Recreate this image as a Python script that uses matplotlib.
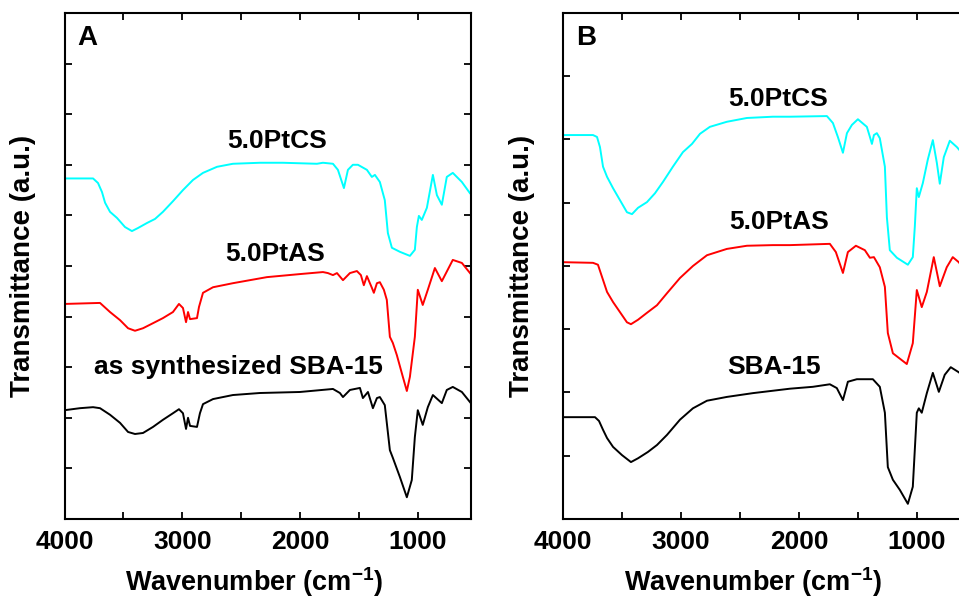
import numpy as np
import matplotlib
matplotlib.use('Agg')
import matplotlib.pyplot as plt
from matplotlib.ticker import MultipleLocator, NullFormatter

plt.rcParams['font.family'] = ['Liberation Sans', 'DejaVu Sans']
plt.rcParams['font.weight'] = 'bold'
plt.rcParams['mathtext.fontset'] = 'custom'
plt.rcParams['mathtext.rm'] = 'Liberation Sans:bold'
plt.rcParams['mathtext.bf'] = 'Liberation Sans:bold'
plt.rcParams['mathtext.default'] = 'bf'

# Panel A, 5.0PtCS (cyan)
a_cs_w = [4000, 3758, 3716, 3682, 3656, 3614, 3555, 3487, 3428, 3377, 3300, 3232, 3165, 3080,
          2995, 2910, 2825, 2706, 2571, 2342, 2147, 1858, 1807, 1722, 1680, 1629, 1595, 1553,
          1510, 1434, 1392, 1366, 1324, 1282, 1256, 1222, 1154, 1069, 1027, 1010, 993, 968, 925,
          874, 840, 798, 756, 705, 628, 560]
a_cs_t = [6.73, 6.73, 6.64, 6.46, 6.25, 6.07, 5.95, 5.77, 5.69, 5.75, 5.85, 5.93, 6.07, 6.28,
          6.50, 6.70, 6.84, 6.96, 7.02, 7.04, 7.04, 7.02, 7.04, 7.02, 6.90, 6.54, 6.90, 7.00,
          7.00, 6.90, 6.76, 6.80, 6.66, 6.30, 5.65, 5.36, 5.28, 5.20, 5.32, 5.77, 5.99, 5.91, 6.15,
          6.80, 6.40, 6.21, 6.76, 6.84, 6.66, 6.44]

# Panel A, 5.0PtAS (red)
a_as_w = [4000, 3699, 3614, 3529, 3461, 3402, 3334, 3249, 3165, 3080, 3029, 2995, 2969, 2952,
          2935, 2876, 2859, 2825, 2740, 2571, 2427, 2282, 2003, 1807, 1765, 1722, 1688, 1637,
          1578, 1519, 1485, 1460, 1434, 1392, 1375, 1349, 1324, 1290, 1265, 1239, 1214, 1180,
          1129, 1095, 1069, 1027, 1002, 960, 917, 857, 798, 705, 628, 545]
a_as_t = [4.25, 4.27, 4.09, 3.93, 3.77, 3.72, 3.77, 3.87, 3.97, 4.09, 4.25, 4.17, 3.89, 4.09,
          3.95, 3.97, 4.19, 4.47, 4.58, 4.66, 4.72, 4.78, 4.84, 4.88, 4.86, 4.82, 4.86, 4.72,
          4.86, 4.90, 4.82, 4.62, 4.80, 4.57, 4.47, 4.66, 4.68, 4.53, 4.33, 3.60, 3.48, 3.24,
          2.81, 2.53, 2.81, 3.60, 4.53, 4.23, 4.53, 4.96, 4.70, 5.12, 5.06, 4.82]

# Panel A, as synthesized SBA-15 (black)
a_sba_w = [4000, 3869, 3758, 3699, 3614, 3529, 3461, 3402, 3334, 3249, 3165, 3080, 3029, 2995,
           2969, 2952, 2935, 2876, 2851, 2825, 2740, 2571, 2342, 2003, 1722, 1663, 1637, 1578,
           1493, 1468, 1425, 1383, 1349, 1324, 1282, 1239, 1214, 1154, 1095, 1053, 1027, 1002,
           960, 917, 874, 798, 756, 705, 628, 552]
a_sba_t = [2.15, 2.19, 2.21, 2.19, 2.06, 1.90, 1.72, 1.68, 1.70, 1.82, 1.96, 2.09, 2.17, 2.09,
           1.78, 2.00, 1.84, 1.82, 2.09, 2.27, 2.37, 2.45, 2.49, 2.51, 2.57, 2.49, 2.41, 2.55,
           2.59, 2.39, 2.51, 2.19, 2.39, 2.41, 2.25, 1.36, 1.21, 0.83, 0.43, 0.77, 1.62, 2.15,
           1.86, 2.21, 2.45, 2.29, 2.55, 2.61, 2.51, 2.29]

# Panel B, 5.0PtCS (cyan)
b_cs_w = [4000, 3748, 3714, 3689, 3663, 3629, 3578, 3519, 3460, 3417, 3366, 3290, 3222, 3154,
          3070, 2985, 2908, 2840, 2756, 2612, 2442, 2222, 2077, 1763, 1712, 1670, 1627, 1593,
          1551, 1500, 1424, 1398, 1381, 1364, 1339, 1314, 1271, 1254, 1229, 1169, 1076, 1034,
          1017, 1000, 983, 949, 907, 864, 830, 805, 771, 720, 660, 600]
b_cs_t = [6.07, 6.07, 6.04, 5.88, 5.57, 5.41, 5.23, 5.04, 4.85, 4.82, 4.92, 5.01, 5.15, 5.33,
          5.57, 5.80, 5.93, 6.09, 6.20, 6.28, 6.34, 6.36, 6.36, 6.37, 6.26, 6.04, 5.79, 6.10,
          6.23, 6.32, 6.20, 6.04, 5.93, 6.07, 6.10, 6.02, 5.57, 4.77, 4.25, 4.13, 4.02, 4.14,
          4.62, 5.23, 5.09, 5.31, 5.68, 5.99, 5.63, 5.30, 5.72, 5.98, 5.88, 5.75]

# Panel B, 5.0PtAS (red)
b_as_w = [4000, 3748, 3706, 3672, 3629, 3578, 3519, 3460, 3426, 3366, 3290, 3205, 3120, 3010,
          2900, 2781, 2612, 2442, 2222, 2077, 1738, 1687, 1627, 1585, 1517, 1441, 1398, 1364,
          1339, 1314, 1271, 1246, 1203, 1085, 1034, 1000, 958, 915, 856, 805, 746, 695, 644, 600]
b_as_t = [4.06, 4.05, 4.02, 3.83, 3.59, 3.43, 3.27, 3.11, 3.08, 3.15, 3.26, 3.38, 3.57, 3.81,
          4.00, 4.17, 4.27, 4.32, 4.33, 4.33, 4.35, 4.22, 3.89, 4.22, 4.32, 4.25, 4.13, 4.14,
          4.06, 3.98, 3.67, 2.94, 2.62, 2.45, 2.78, 3.62, 3.35, 3.59, 4.14, 3.68, 3.98, 4.14,
          4.06, 3.95]

# Panel B, SBA-15 (black)
b_sba_w = [4000, 3731, 3697, 3663, 3629, 3578, 3502, 3426, 3366, 3282, 3205, 3120, 3010, 2900,
           2781, 2612, 2391, 2077, 1882, 1738, 1679, 1627, 1585, 1509, 1373, 1314, 1271, 1246,
           1203, 1144, 1076, 1034, 1000, 983, 958, 915, 864, 813, 763, 712, 644, 600]
b_sba_t = [1.61, 1.61, 1.55, 1.41, 1.28, 1.14, 1.01, 0.90, 0.96, 1.06, 1.17, 1.33, 1.57, 1.75,
           1.87, 1.93, 1.99, 2.06, 2.09, 2.13, 2.07, 1.88, 2.17, 2.21, 2.21, 2.09, 1.68, 0.82,
           0.62, 0.46, 0.24, 0.51, 1.68, 1.75, 1.68, 1.99, 2.31, 2.01, 2.28, 2.40, 2.32, 2.25]

fig = plt.figure(figsize=(9.59, 5.98), dpi=100)
axA = fig.add_axes([0.0673, 0.1321, 0.4239, 0.8462])
axB = fig.add_axes([0.5874, 0.1321, 0.4239, 0.8462])

lw = 1.4
axA.plot(a_cs_w, a_cs_t, color='#00ffff', lw=lw)
axA.plot(a_as_w, a_as_t, color='#ff0000', lw=lw)
axA.plot(a_sba_w, a_sba_t, color='black', lw=lw)
axA.set_ylim(0, 10)

axB.plot(b_cs_w, b_cs_t, color='#00ffff', lw=lw)
axB.plot(b_as_w, b_as_t, color='#ff0000', lw=lw)
axB.plot(b_sba_w, b_sba_t, color='black', lw=lw)
axB.set_ylim(0, 8)

for ax, tag in [(axA, 'A'), (axB, 'B')]:
    ax.set_xlim(4000, 550)
    ax.xaxis.set_major_locator(MultipleLocator(1000))
    ax.xaxis.set_minor_locator(MultipleLocator(500))
    ax.yaxis.set_major_locator(MultipleLocator(1))
    ax.yaxis.set_major_formatter(NullFormatter())
    ax.tick_params(axis='both', which='both', direction='in', top=True, right=True,
                   length=5, width=1.3, labelsize=19, pad=8)
    for s in ax.spines.values():
        s.set_linewidth(1.5)
    for lab in ax.get_xticklabels():
        lab.set_fontweight('bold')
    ax.set_xlabel(r'Wavenumber (cm$^{-1}$)', fontsize=19.5, fontweight='bold')
    ax.xaxis.set_label_coords(0.466, -0.091)
    ax.set_ylabel('Transmittance (a.u.)', fontsize=20, fontweight='bold')
    ax.yaxis.set_label_coords(-0.07, 0.5)
    ax.text(0.031, 0.951, tag, transform=ax.transAxes, fontsize=20, fontweight='bold',
            ha='left', va='center')

axA.text(0.523, 0.747, '5.0PtCS', transform=axA.transAxes, fontsize=19, fontweight='bold',
         ha='center', va='center')
axA.text(0.518, 0.524, '5.0PtAS', transform=axA.transAxes, fontsize=19, fontweight='bold',
         ha='center', va='center')
axA.text(0.427, 0.300, 'as synthesized SBA-15', transform=axA.transAxes, fontsize=19,
         fontweight='bold', ha='center', va='center')

axB.text(0.528, 0.830, '5.0PtCS', transform=axB.transAxes, fontsize=19, fontweight='bold',
         ha='center', va='center')
axB.text(0.530, 0.587, '5.0PtAS', transform=axB.transAxes, fontsize=19, fontweight='bold',
         ha='center', va='center')
axB.text(0.518, 0.300, 'SBA-15', transform=axB.transAxes, fontsize=19, fontweight='bold',
         ha='center', va='center')

fig.savefig('out.png', dpi=100)
